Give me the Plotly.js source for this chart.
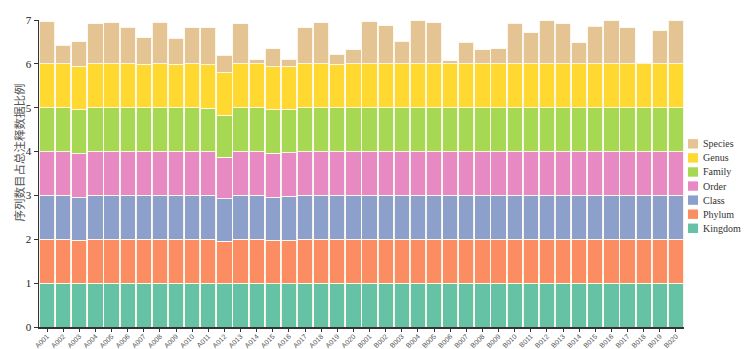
<!DOCTYPE html>
<html>
<head>
<meta charset="utf-8">
<script src="https://cdn.plot.ly/plotly-3.0.1.min.js"></script>
<style>html,body{margin:0;padding:0;background:#fff;}#chart{width:751px;height:349px;}</style>
</head>
<body>
<div id="chart"></div>
<script>
var samples = ["A001","A002","A003","A004","A005","A006","A007","A008","A009","A010",
  "A011","A012","A013","A014","A015","A016","A017","A018","A019","A020",
  "B001","B002","B003","B004","B005","B006","B007","B008","B009","B010",
  "B011","B012","B013","B014","B015","B016","B017","B018","B019","B020"];

var kingdom = [1,1,1,1,1,1,1,1,1,1, 1,0.99,1,1,0.99,0.99,1,1,1,1,
  1,1,1,1,1,1,1,1,1,1, 1,1,1,1,1,1,1,1,1,1];
var phylum = [1,1,0.98,1,1,1,1,1,1,1, 1,0.97,1,1,0.99,0.99,1,1,1,1,
  1,1,1,1,1,1,1,1,1,1, 1,1,1,1,1,1,1,1,1,1];
var classV = [1,1,0.98,1,1,1,1,1,1,1, 1,0.96,1,1,0.98,1.0,1,1,1,1,
  1,1,1,1,1,1,1,1,1,1, 1,1,1,1,1,1,1,1,1,1];
var order = [1,1,0.99,1,1,1,1,1,1,1, 1,0.95,1,1,1.0,0.99,1,1,1,1,
  1,1,1,1,1,1,1,1,1,1, 1,1,1,1,1,1,1,1,1,1];
var family = [1,1,1.0,1,1,1,1,1,1,1, 0.99,0.96,1,1,0.99,0.99,1,1,1,1,
  1,1,1,1,1,1,1,1,1,1, 1,1,1,1,1,1,1,1,1,1];
var genus = [1,1,0.99,1,1,1,0.99,1,0.99,1, 0.99,0.97,1,1,0.98,0.99,1,1,0.99,1,
  1,1,1,1,1,1,1,1,1,1, 1,1,1,1,1,1,1,1,1,1];
var species = [0.96,0.43,0.56,0.91,0.94,0.84,0.60,0.94,0.59,0.82, 0.84,0.40,0.91,0.09,0.42,0.16,0.82,0.94,0.23,0.32,
  0.96,0.87,0.52,0.98,0.94,0.07,0.49,0.32,0.35,0.93, 0.71,0.98,0.91,0.48,0.86,0.98,0.82,0.03,0.75,0.98];

var levelNames = ["Kingdom","Phylum","Class","Order","Family","Genus","Species"];
var levelValues = [kingdom, phylum, classV, order, family, genus, species];
var levelColors = ["#66c2a5","#fc8d62","#8da0cb","#e78ac3","#a6d854","#ffd92f","#e5c494"];
var yTitle = "序列数目占总注释数据比例";

var W = 751, H = 349;
var M = {l: 39, r: 67, t: 20, b: 22};
var plotW = W - M.l - M.r, plotH = H - M.t - M.b;
function px2x(px){ return (px - M.l) / plotW; }
function px2y(py){ return (H - M.b - py) / plotH; }

var traces = levelNames.map(function(name, i){
  return {
    type: "bar",
    name: name,
    x: samples,
    y: levelValues[i],
    marker: {color: levelColors[i], line: {color: "rgba(255,250,240,0.9)", width: 1}},
    hoverinfo: "x+y+name",
    showlegend: false
  };
});

// custom legend (top: Species ... bottom: Kingdom)
var shapes = [], annotations = [];
for (var k = 0; k < levelNames.length; k++) {
  var idx = levelNames.length - 1 - k;
  var cy = 143.8 + k * 14.08;
  shapes.push({
    type: "rect", xref: "paper", yref: "paper",
    x0: px2x(688), x1: px2x(698), y0: px2y(cy + 4.7), y1: px2y(cy - 4.7),
    fillcolor: levelColors[idx], line: {width: 0}
  });
  annotations.push({
    xref: "paper", yref: "paper", x: px2x(701), y: px2y(cy),
    xanchor: "left", yanchor: "middle", showarrow: false,
    text: levelNames[idx],
    font: {family: "Liberation Serif, serif", size: 10, color: "#333"}
  });
}
annotations.push({
  xref: "paper", yref: "paper", x: px2x(18), y: px2y(152.5),
  xanchor: "center", yanchor: "middle", showarrow: false, textangle: -90,
  text: yTitle,
  font: {family: "Noto Sans CJK SC, sans-serif", size: 11.5, color: "#555"}
});

var layout = {
  width: W, height: H,
  margin: {l: M.l, r: M.r, t: M.t, b: M.b, autoexpand: false},
  paper_bgcolor: "#fff", plot_bgcolor: "#fff",
  barmode: "stack",
  bargap: 0.06,
  showlegend: false,
  shapes: shapes,
  annotations: annotations,
  xaxis: {
    type: "category",
    tickangle: -45,
    tickfont: {family: "Liberation Sans, Arial, sans-serif", size: 7, color: "#555"},
    ticks: "outside", ticklen: 3, tickcolor: "#333",
    ticklabelstandoff: -2,
    showline: true, linecolor: "#333", linewidth: 1.5,
    showgrid: false, zeroline: false,
    automargin: false
  },
  yaxis: {
    range: [0, 7],
    dtick: 1,
    ticks: "outside", ticklen: 4, tickcolor: "#333",
    tickfont: {family: "Liberation Serif, serif", size: 11, color: "#222"},
    showline: true, linecolor: "#333", linewidth: 1.5,
    showgrid: false, zeroline: false,
    automargin: false
  }
};

Plotly.newPlot("chart", traces, layout, {displayModeBar: false, staticPlot: true});
</script>
</body>
</html>
